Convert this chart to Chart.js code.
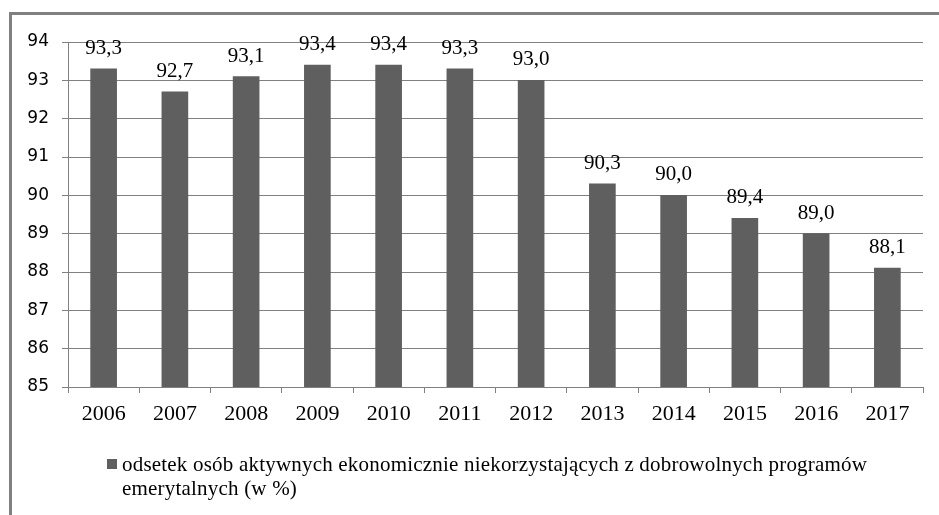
<!DOCTYPE html>
<html>
<head>
<meta charset="utf-8">
<script src="https://cdn.jsdelivr.net/npm/chart.js@4"></script>
<style>
    html, body { margin: 0; padding: 0; background: #fff; }
    #wrap { position: relative; width: 939px; height: 515px; overflow: hidden; }
    #frame {
        position: absolute; left: 9px; top: 12px; width: 1000px; height: 600px;
        border-left: 3px solid #808080; border-top: 3px solid #808080;
    }
    canvas { position: absolute; left: 0; top: 0; }
    #legend {
        position: absolute; left: 107px; top: 452px; display: flex;
        font-family: "Liberation Serif", "Times New Roman", serif; font-size: 21px;
        letter-spacing: 0.2px; line-height: 24px; color: #000;
    }
    #legend .box { width: 10px; height: 10px; background: #5f5f5f; margin: 7px 5px 0 0; flex: none; }
    #legend .txt { width: 790px; }
</style>
</head>
<body>
<div id="wrap">
    <div id="frame"></div>
    <canvas id="chart" width="939" height="515"></canvas>
    <div id="legend"><div class="box"></div><div class="txt"></div></div>
</div>
<script>
// data
const years = ['2006', '2007', '2008', '2009', '2010', '2011', '2012', '2013', '2014', '2015', '2016', '2017'];
const shares = [93.3, 92.7, 93.1, 93.4, 93.4, 93.3, 93.0, 90.3, 90.0, 89.4, 89.0, 88.1];
const seriesLabel = 'odsetek osób aktywnych ekonomicznie niekorzystających z dobrowolnych programów emerytalnych (w %)';
const yMin = 85, yMax = 94, yStep = 1;

const fmt = v => v.toFixed(1).replace('.', ',');

// values drawn above each bar
const valueLabels = {
    id: 'valueLabels',
    afterDatasetsDraw(chart) {
        const { ctx } = chart;
        const meta = chart.getDatasetMeta(0);
        ctx.save();
        ctx.font = '21px "Liberation Serif", serif';
        ctx.fillStyle = '#000';
        ctx.textAlign = 'center';
        ctx.textBaseline = 'alphabetic';
        meta.data.forEach((bar, i) => {
            ctx.fillText(fmt(chart.data.datasets[0].data[i]), bar.x, bar.y - 15);
        });
        ctx.restore();
    }
};

document.querySelector('#legend .txt').textContent = seriesLabel;

new Chart(document.getElementById('chart'), {
    type: 'bar',
    data: {
        labels: years,
        datasets: [{
            label: seriesLabel,
            data: shares,
            backgroundColor: '#5f5f5f',
            borderWidth: 0,
            barThickness: 26
        }]
    },
    options: {
        responsive: false,
        animation: false,
        layout: { padding: { left: 10, top: 42, right: 16, bottom: 88 } },
        plugins: { legend: { display: false }, tooltip: { enabled: false } },
        scales: {
            x: {
                grid: { drawOnChartArea: false, color: '#808080', tickLength: 6 },
                border: { color: '#808080' },
                ticks: {
                    color: '#000', padding: 8,
                    font: { family: '"Liberation Serif", serif', size: 22 }
                },
                afterFit: s => { s.height = 40; }
            },
            y: {
                min: yMin, max: yMax,
                grid: { color: '#808080', tickLength: 6 },
                border: { color: '#808080' },
                ticks: {
                    stepSize: yStep, color: '#000', padding: 13,
                    font: { family: '"DejaVu Sans", sans-serif', size: 17 }
                },
                afterFit: s => { s.width = 58; }
            }
        }
    },
    plugins: [valueLabels]
});
</script>
</body>
</html>
